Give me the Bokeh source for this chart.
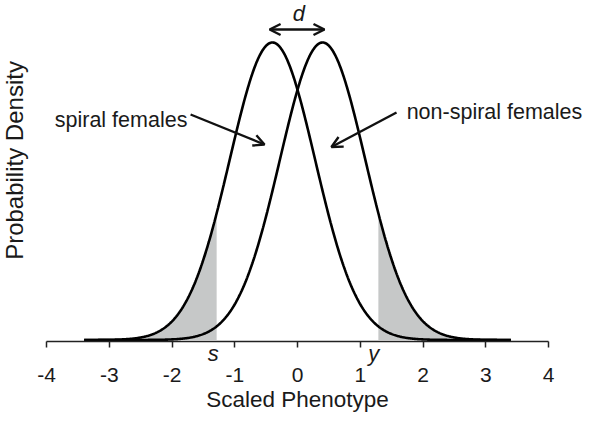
import numpy as np
from bokeh.plotting import figure
from bokeh.models import Range1d, FixedTicker, Arrow, OpenHead, Label, LinearAxis
from bokeh.embed import file_html
from bokeh.resources import INLINE

# --- values ---
means = [-0.4, 0.4]          # spiral females, non-spiral females
sd = 0.68
x_extent = [-3.4, 3.4]
threshold_s = -1.28
threshold_y = 1.28
x_ticks = [-4, -3, -2, -1, 0, 1, 2, 3, 4]
x_tick_labels = ["-4", "-3", "-2", "-1", "0", "1", "2", "3", "4"]
series_names = ["spiral females", "non-spiral females"]

FONT = "Liberation Sans"
GREY = "#c6c8c8"
INK = "#1a1a1a"

def pdf(x, m, s):
    return np.exp(-0.5 * ((x - m) / s) ** 2) / (s * np.sqrt(2 * np.pi))

x = np.linspace(x_extent[0], x_extent[1], 600)
y_left = pdf(x, means[0], sd)
y_right = pdf(x, means[1], sd)

p = figure(width=588, height=415, output_backend="svg", toolbar_location=None,
           x_range=Range1d(-4.733, 4.637), y_range=Range1d(-0.1489, 0.6695),
           min_border=0, x_axis_location=None, y_axis_location=None)
p.outline_line_color = None
p.grid.visible = False
p.background_fill_color = None
p.border_fill_color = "white"

# shaded tails
ml = x <= threshold_s
p.varea(x=x[ml], y1=0, y2=y_left[ml], fill_color=GREY)
mr = x >= threshold_y
p.varea(x=x[mr], y1=0, y2=y_right[mr], fill_color=GREY)

p.line(x, y_left, line_color="black", line_width=2.6)
p.line(x, y_right, line_color="black", line_width=2.6)

# x axis placed inside the frame just under the baseline
xa = LinearAxis(fixed_location=-0.0039)
xa.ticker = FixedTicker(ticks=x_ticks)
xa.major_label_overrides = {t: s for t, s in zip(x_ticks, x_tick_labels)}
xa.bounds = (x_ticks[0], x_ticks[-1])
xa.axis_line_width = 1.5
xa.axis_line_color = "#222222"
xa.major_tick_line_color = "#222222"
xa.major_tick_line_width = 1.5
xa.major_tick_in = 0
xa.major_tick_out = 6
xa.minor_tick_line_color = None
xa.major_label_text_font = FONT
xa.major_label_text_font_size = "21px"
xa.major_label_text_color = INK
xa.major_label_standoff = 20
xa.axis_label = "Scaled Phenotype"
xa.axis_label_text_font = FONT
xa.axis_label_text_font_size = "22.5px"
xa.axis_label_text_font_style = "normal"
xa.axis_label_text_color = INK
xa.axis_label_standoff = 2
p.add_layout(xa, "below")

# arrows
def arrow(x0, y0, x1, y1, both=False):
    a = Arrow(x_start=x0, y_start=y0, x_end=x1, y_end=y1, line_width=2.4, line_color="#111111",
              end=OpenHead(size=11, line_width=2.4, line_color="#111111"),
              start=OpenHead(size=11, line_width=2.4, line_color="#111111") if both else None)
    p.add_layout(a)

arrow(-1.704, 0.4447, -0.526, 0.3855)
arrow(1.578, 0.4486, 0.540, 0.3807)
arrow(-0.445, 0.6123, 0.43, 0.6123, both=True)

def label(x0, y0, text, align="left", base="alphabetic", style="normal", size="22px", angle=0):
    p.add_layout(Label(x=x0, y=y0, text=text, text_font=FONT, text_font_size=size,
                       text_align=align, text_baseline=base, text_font_style=style,
                       text_color=INK, angle=angle))

label(-1.755, 0.4348, series_names[0], align="right", size="21.5px")
label(1.739, 0.4492, series_names[1], align="left", size="21.5px")
label(0.02, 0.644, "d", align="center", base="middle", style="italic", size="22px")
label(-1.342, -0.0266, "s", align="center", base="middle", style="italic", size="22px")
label(1.216, -0.0266, "y", align="center", base="middle", style="italic", size="22px")
label(-4.505, 0.354, "Probability Density", align="center", base="middle", size="24px",
      angle=np.pi / 2)

open("out.html", "w").write(file_html(p, INLINE))
